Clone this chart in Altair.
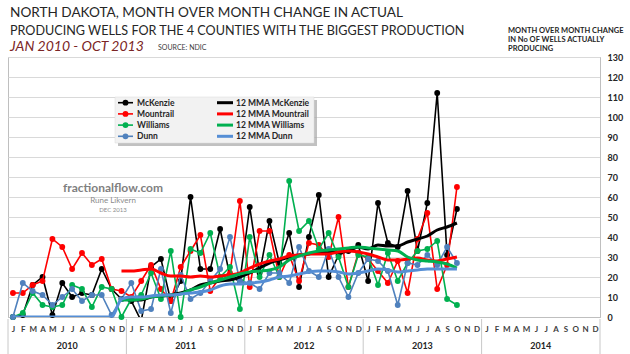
import altair as alt
import pandas as pd

# ---------------- data ----------------
month_letters = ['J', 'F', 'M', 'A', 'M', 'J', 'J', 'A', 'S', 'O', 'N', 'D']
years = ['2010', '2011', '2012', '2013', '2014']
counties = ['McKenzie', 'Mountrail', 'Williams', 'Dunn']
y_ticks = [0, 10, 20, 30, 40, 50, 60, 70, 80, 90, 100, 110, 120, 130]

# month over month change, Jan 2010 .. Oct 2013
mckenzie = [0, 1, 16, 20, 1, 17, 10, 12, 11, 24, 14, 9,
            8, -2, 25, 29, 8, 18, 60, 24, 24, 44, 20, 18,
            55, 22, 48, 27, 42, 15, 40, 61, 20, 31, 33, 36,
            18, 57, 37, 35, 63, 33, 57, 112, 31, 54]
mountrail = [12, 12, 16, 18, 39, 35, 24, 32, 26, 29, 14, 13,
             10, 18, 26, 14, 8, 25, 33, 41, 13, 20, 22, 58,
             15, 43, 43, 20, 31, 18, 37, 36, 30, 50, 15, 32,
             29, 23, 17, 28, 12, 39, 52, 14, 26, 65]
williams = [0, 2, 12, 6, 5, 6, 16, 14, 5, 15, 14, 0,
            9, 11, 22, 9, 33, 0, 34, 32, 42, 20, 25, 4,
            40, 20, 31, 20, 68, 43, 48, 34, 42, 30, 15, 31,
            30, 16, 32, 18, 27, 33, 34, 38, 9, 6]
dunn = [0, 17, 13, 11, 6, 10, 14, 8, 11, 11, 1, 9,
        17, 3, 4, 24, 2, 21, 9, 12, 18, 24, 40, 18,
        17, 14, 22, 22, 17, 35, 23, 20, 34, 20, 10, 22,
        29, 28, 23, 6, 27, 26, 31, 26, 35, 27]

# 12 month moving averages (as plotted)
mma_mckenzie = [None, None, None, None, None, None, None, None, None, None, None,
                9.5, 8.5, 8.5, 10, 10.5, 11, 12, 13.5, 16, 17, 18, 18.5,
                20, 22, 24.5, 27, 28.5, 30, 31, 31.5, 32.5, 32.5, 32.5, 33,
                35, 34, 36, 35.5, 35.5, 37.5, 39, 40.5, 43.5, 45, 47]
mma_mountrail = [None, None, None, None, None, None, None, None, None, None, None,
                 23, 23, 23.5, 24, 22, 20.5, 20.5, 20, 20.5, 20, 20.5, 21,
                 22, 24.5, 26.5, 28, 29, 30.5, 31, 31.5, 31.5, 31.5, 32.5, 33,
                 32.5, 31.5, 30, 28.5, 28.5, 29, 29.5, 28.5, 28, 29, 30]
mma_williams = [None, None, None, None, None, None, None, None, None, None, None,
                8.5, 8.5, 9, 10, 10.5, 11, 11.5, 13.5, 15, 17, 18.5, 20,
                21.5, 22.5, 23, 23.5, 25, 28.5, 30.5, 32, 33, 33.5, 34, 34.5,
                35, 34.5, 34, 33.5, 33, 30, 28.5, 28, 27.5, 26.5, 24.5]
mma_dunn = [0, 0, 0, 0, 0, 0, 0, 0, 0, 0, 0,
            9, 10, 10, 10.5, 11, 11, 11.5, 12, 12.5, 13.5, 15.5, 16.5,
            16.5, 17, 17.5, 18.5, 20, 20.5, 21.5, 22.5, 23, 23, 22.5, 21.5,
            22, 23, 24, 23.5, 22.5, 23, 23.5, 24, 24, 24, 24]

raw_lists = [mckenzie, mountrail, williams, dunn]
mma_lists = [mma_mckenzie, mma_mountrail, mma_williams, mma_dunn]
mma_names = ['12 MMA ' + c for c in counties]

raw_colors = ['#000000', '#ff0000', '#00b050', '#4f81bd']
mma_colors = ['#000000', '#ff0000', '#00b050', '#558ed5']

rows = []
for name, vals in zip(counties, raw_lists):
    for i, v in enumerate(vals):
        rows.append({'idx': i, 'value': v, 'series': name})
for name, vals in zip(mma_names, mma_lists):
    for i, v in enumerate(vals):
        if v is not None:
            rows.append({'idx': i, 'value': v, 'series': name})
df = pd.DataFrame(rows)

FONT = 'Lato'
n_months = len(years) * len(month_letters)

color_scale = alt.Scale(domain=counties + mma_names, range=raw_colors + mma_colors)
color_enc = alt.Color('series:N', scale=color_scale, legend=None)

letters_js = '[' + ','.join("'%s'" % m for m in month_letters) + ']'
label_expr = letters_js + '[datum.value % 12]'
x_scale = alt.Scale(domain=[-0.5, n_months - 0.5], nice=False, zero=False)
x_axis = alt.Axis(values=list(range(n_months)), labelExpr=label_expr, ticks=False,
                  grid=False, domain=True, domainColor='#bfbfbf',
                  labelFont=FONT, labelFontSize=8, labelFontWeight='bold',
                  labelColor='#404040', labelPadding=8, labelAngle=0,
                  labelOverlap=False, labelFlush=False, title=None)


def xq(field):
    return alt.X(field, title=None, scale=x_scale, axis=x_axis)


x_enc = xq('idx:Q')
y_enc = alt.Y('value:Q', title=None,
              scale=alt.Scale(domain=[0, 130], nice=False, zero=True),
              axis=alt.Axis(orient='right', values=y_ticks, ticks=False, grid=True,
                            gridColor='#d9d9d9', gridWidth=1, domain=True,
                            domainColor='#bfbfbf', labelFont=FONT, labelFontSize=9,
                            labelFontWeight='bold', labelColor='#262626',
                            labelPadding=7, title=None))

base = alt.Chart(df)
layers = []

# raw series
for name in counties:
    sub = base.transform_filter(alt.datum.series == name)
    layers.append(sub.mark_line(strokeWidth=1.6, clip=True).encode(x=x_enc, y=y_enc, color=color_enc))
    layers.append(sub.transform_filter(alt.datum.value >= 0).mark_circle(size=34, opacity=1).encode(
        x=x_enc, y=y_enc, color=color_enc))
# moving averages
for name in mma_names:
    sub = base.transform_filter(alt.datum.series == name)
    layers.append(sub.mark_line(strokeWidth=3, clip=True, interpolate='monotone').encode(
        x=x_enc, y=y_enc, color=color_enc))

# year separators and year labels
sep = alt.Chart(pd.DataFrame({'b': list(range(len(years) + 1))})).transform_calculate(
    xb='datum.b*12-0.5').mark_rule(color='#c8c8c8', strokeWidth=1).encode(
    x=xq('xb:Q'), y=alt.value(262), y2=alt.value(297))
layers.append(sep)
yl = alt.Chart(pd.DataFrame({'year': years})).transform_window(
    k='row_number()').transform_calculate(xc='(datum.k-1)*12+5.5').mark_text(
    font=FONT, fontSize=9, fontWeight='bold', color='#262626', baseline='middle').encode(
    x=xq('xc:Q'), y=alt.value(289), text='year:N')
layers.append(yl)

dummy = pd.DataFrame({'a': [0]})

# legend box
layers.append(alt.Chart(dummy).mark_rect(fill='#a6a6a6', opacity=0.7).encode(
    x=alt.value(110), x2=alt.value(309), y=alt.value(43), y2=alt.value(89)))
layers.append(alt.Chart(dummy).mark_rect(fill='#f2f2f2', stroke='#d9d9d9', strokeWidth=0.5).encode(
    x=alt.value(107), x2=alt.value(306), y=alt.value(40), y2=alt.value(86)))

leg = alt.Chart(pd.DataFrame({'series': counties})).transform_window(
    r='row_number()').transform_calculate(ly='34.5 + datum.r*11.2')
layers.append(leg.mark_rule(strokeWidth=1.6).encode(
    x=alt.value(110), x2=alt.value(125), y=alt.Y('ly:Q', scale=None), color=color_enc))
layers.append(leg.mark_circle(size=34, opacity=1).encode(
    x=alt.value(117.5), y=alt.Y('ly:Q', scale=None), color=color_enc))
layers.append(leg.mark_text(align='left', baseline='middle', font=FONT, fontSize=8.5,
                            fontWeight='bold', color='#262626').encode(
    x=alt.value(129), y=alt.Y('ly:Q', scale=None), text='series:N'))
leg2 = alt.Chart(pd.DataFrame({'series': mma_names})).transform_window(
    r='row_number()').transform_calculate(ly='34.5 + datum.r*11.2')
layers.append(leg2.mark_rule(strokeWidth=3).encode(
    x=alt.value(209), x2=alt.value(225), y=alt.Y('ly:Q', scale=None), color=color_enc))
layers.append(leg2.mark_text(align='left', baseline='middle', font=FONT, fontSize=8.5,
                             fontWeight='bold', color='#262626').encode(
    x=alt.value(228), y=alt.Y('ly:Q', scale=None), text='series:N'))


def txt(s, x, y, size, color='#262626', weight='normal', style='normal', align='left'):
    return alt.Chart(dummy).mark_text(text=s, align=align, baseline='middle', font=FONT,
                                      fontSize=size, fontWeight=weight, fontStyle=style,
                                      color=color).encode(x=alt.value(x), y=alt.value(y))


layers += [
    txt('NORTH DAKOTA, MONTH OVER MONTH CHANGE IN ACTUAL', 2, -44, 13.6),
    txt('PRODUCING WELLS FOR THE 4 COUNTIES WITH THE BIGGEST PRODUCTION', 2, -26, 12.6),
    txt('JAN 2010 - OCT 2013', 2, -10, 14, color='#7b2525', style='italic'),
    txt('SOURCE: NDIC', 150, -9, 7, color='#404040'),
    txt('MONTH OVER MONTH CHANGE', 500, -26, 7.5, weight='bold'),
    txt('IN No OF WELLS ACTUALLY', 500, -17, 7.5, weight='bold'),
    txt('PRODUCING', 500, -8, 7.5, weight='bold'),
    txt('fractionalflow.com', 105, 131, 12, color='#7f7f7f', weight='bold', align='center'),
    txt('Rune Likvern', 105, 143.5, 8, color='#8c8c8c', align='center'),
    txt('DEC 2013', 105, 153, 6, color='#8c8c8c', align='center'),
]

chart = alt.layer(*layers).properties(
    width=592, height=260,
    padding={'left': 8, 'top': 57, 'right': 30, 'bottom': 37},
    autosize=alt.AutoSizeParams(type='none'),
    background='white',
).configure_view(stroke='#bfbfbf', strokeWidth=1)

chart.save('out.html', embed_options={'renderer': 'svg', 'actions': False})
